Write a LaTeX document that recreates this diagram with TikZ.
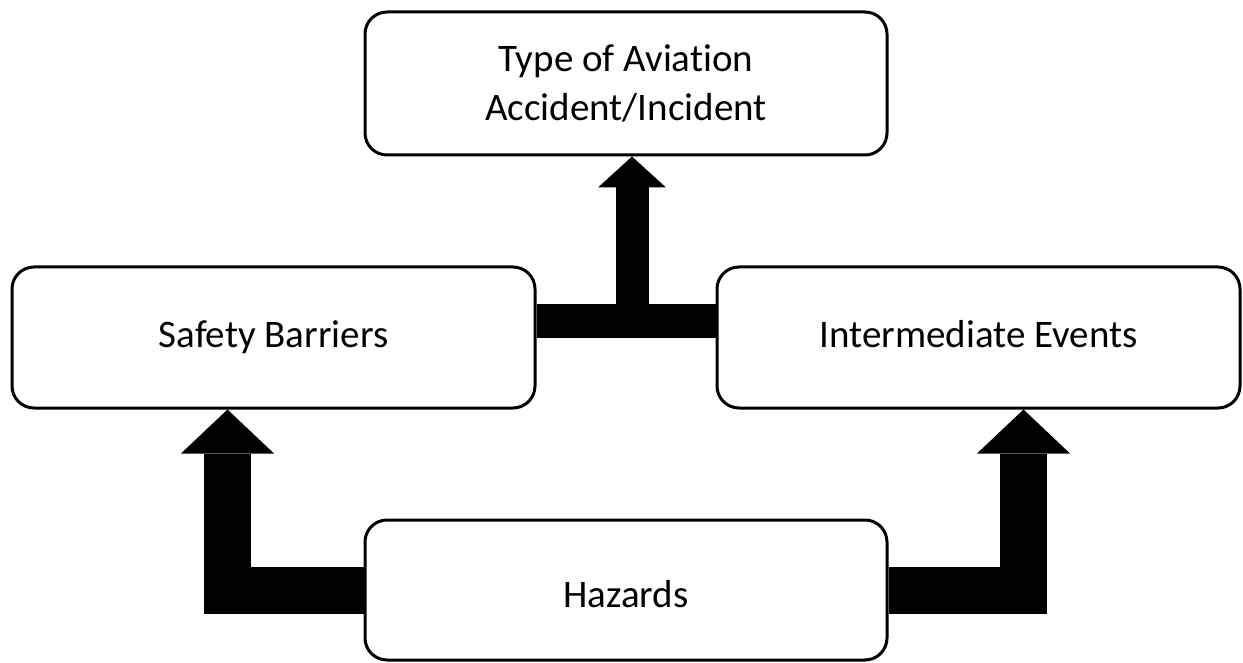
\documentclass[tikz,border=0pt]{standalone}
\usepackage{fontspec}
\setmainfont{Carlito}[Ligatures={NoCommon}]
\usetikzlibrary{arrows.meta,calc}
\begin{document}
\begin{tikzpicture}[x=1pt,y=-1pt,
  box/.style={draw=black, line width=3pt, fill=white, rounded corners=22pt,
    inner sep=0pt, align=center,
    font=\fontsize{39}{49}\selectfont},
  oneline/.style={text height=28pt, text depth=8pt},
  widearrow/.style={line width=47pt, line join=miter,
    -{Triangle[length=44pt,width=93pt,line width=0pt]}},
  narrowarrow/.style={line width=33pt, line join=miter,
    -{Triangle[length=31pt,width=68pt,line width=0pt]}},
  bar/.style={line width=34pt}
]
\useasboundingbox (0,0) rectangle (1243,663);

% the four stages
\node[box, minimum width=522pt, minimum height=143pt] (top) at (626,83.5)
  {Type of Aviation\\Accident/Incident};
\node[box, oneline, minimum width=523pt, minimum height=141pt] (sb) at (273.5,337.5)
  {Safety Barriers};
\node[box, oneline, minimum width=523pt, minimum height=141pt] (ie) at (978.5,337.5)
  {Intermediate Events};
\node[box, text height=34pt, text depth=0pt, minimum width=522pt, minimum height=140pt]
  (hz) at (626,590) {Hazards};

% hazards feed both middle stages
\draw[widearrow] (hz.west) -| ([xshift=-46pt]sb.south);
\draw[widearrow] (hz.east) -| ([xshift=45pt]ie.south);

% middle stages join and lead to the outcome
\draw[bar] ([yshift=16.5pt]sb.east) -- ([yshift=16.5pt]ie.west)
  coordinate[pos=0.5, xshift=6pt] (tee);
\draw[narrowarrow] (tee) -- (tee |- top.south);
\end{tikzpicture}
\end{document}
